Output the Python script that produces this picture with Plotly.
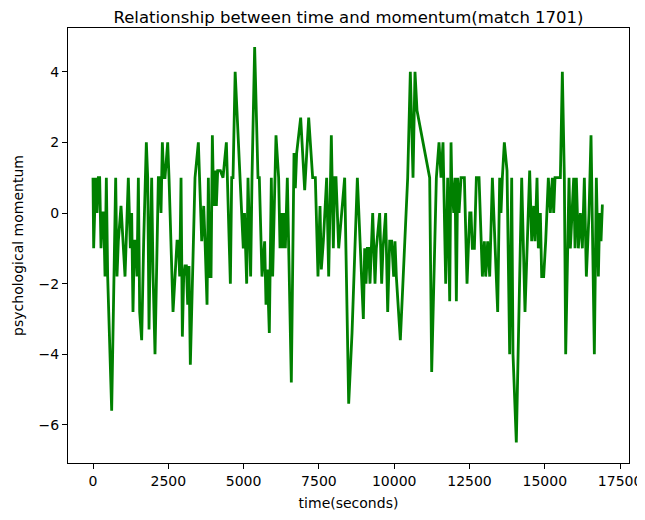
import plotly.graph_objects as go

# time (seconds) and psychological momentum
time_s = [
    0, 22, 89, 133, 177, 221, 266, 310, 354, 399, 443, 487, 620, 753, 797, 841, 930,
    1063, 1173, 1218, 1240, 1284, 1328, 1373, 1417, 1461, 1506, 1550, 1616, 1683, 1727,
    1771, 1816, 1860, 1904, 1948, 1993, 2059, 2170, 2214, 2258, 2303, 2347, 2391, 2480,
    2524, 2657, 2723, 2790, 2834, 2878, 2923, 2967, 3011, 3055, 3100, 3144, 3188, 3232,
    3387, 3498, 3609, 3675, 3720, 3786, 3830, 3874, 3919, 3963, 4007, 4052, 4096, 4140,
    4229, 4317, 4428, 4561, 4605, 4649, 4720, 4950, 4990, 5030, 5057, 5102, 5146, 5190,
    5234, 5279, 5367, 5478, 5522, 5611, 5699, 5744, 5788, 5854, 5921, 5965, 6076, 6164,
    6209, 6253, 6297, 6341, 6386, 6452, 6585, 6674, 6718, 6762, 6895, 7028, 7161, 7293,
    7382, 7470, 7537, 7581, 7648, 7758, 7825, 7913, 7980, 8024, 8068, 8157, 8245, 8356,
    8489, 8600, 8777, 8976, 9020, 9065, 9109, 9153, 9197, 9286, 9363, 9407, 9518, 9584,
    9629, 9717, 9784, 9850, 9917, 9983, 10027, 10071, 10204, 10448, 10536, 10625, 10691,
    10758, 11178, 11245, 11400, 11488, 11555, 11621, 11710, 11776, 11843, 11887, 11909,
    11976, 12020, 12064, 12108, 12153, 12219, 12330, 12418, 12507, 12551, 12595, 12662,
    12728, 12817, 12861, 12928, 12994, 13038, 13104, 13171, 13260, 13347, 13436, 13502,
    13546, 13591, 13657, 13746, 13834, 13901, 13945, 14055, 14233, 14343, 14498, 14565,
    14631, 14675, 14742, 14786, 14853, 14897, 14963, 15030, 15118, 15184, 15251, 15295,
    15340, 15406, 15517, 15583, 15650, 15694, 15805, 15849, 15915, 15960, 16004, 16048,
    16115, 16181, 16247, 16314, 16380, 16469, 16535, 16646, 16712, 16779, 16823, 16867,
    16911, 16956,
]
momentum = [
    1, -1, 1, 0, 1, 1, -1, 0, 0, -1.8, 1, -1.8, -5.6, 1, -1.8, -0.8, 0.2,
    -1.8, 1, 0, -1, 0, -2.8, -0.8, -0.8, -1.8, 1, -2.8, -3.6, -0.8, 1,
    2, 1, -3.3, -0.8, 1, -1.7, -4, 1, 1, 0, 2, 1, 1, 2,
    1, -2.8, -1.8, -0.8, -0.8, -1.8, 1, -3.5, -1.8, -1.5, -1.5, -2.6, -1.5, -4.3,
    1, 2, -0.8, 0.2, -0.8, -2.6, 1, -1.8, -1.8, 2.2, 0.2, 1.2, 0.2, 1.2,
    1.2, 1.0, 2, -2, 1, 1, 4, 0, -1, 0, -1, -2, 1, -0.8,
    -1.8, 1, 4.7, 1, 1, -1.8, -0.8, -2.6, -1.6, -3.4, 1, -1.8, 2.2, 1,
    -1, 0, -1, 0, -1, 1, -4.8, 1.7, 0.7, 1.7, 2.7, 0.65, 2.7, 1,
    1, -1.8, 0.2, -1.6, -0.8, 1, -1.8, 2.2, -1, 1, 1, -1, 0, 1,
    -5.4, -3.4, 1, -3, -1, -2, -1, -1, -2, 0, -2, -1, 0, -2,
    -1, 0, -2.8, -0.8, -0.8, -1.8, -0.8, -1.8, -3.6, 1, 4, 1, 4,
    2.9, 1, -4.5, 1, 2, 1, 2, -2, 1, -2.5, 2, 1,
    0, 1, -2.5, 1, 0, 1, 1, -2, 0, 0, -1, -1,
    1, 1, 0, -1.8, -0.8, -1.8, -0.8, -1.8, 1, -0.8, -2.8, 1,
    0, 1, 2, 1.2, -4, 1, -4, -6.5, 1, -2.8, 1.2, -0.8,
    0.2, -0.8, 1, -1, 0, -1.8, -1.8, -0.8, 1, 0, 1, 0,
    1, 1, 1, 4, 1, -4, 1, -1, 0, 1, -1, 1,
    -1, 0, -1, 1, -1.8, 0, 2.2, -4, 1, -1.8, 0, -0.8,
    0.2, 0.2,
]

x_ticks = [0, 2500, 5000, 7500, 10000, 12500, 15000, 17500]
x_ticktext = ["0", "2500", "5000", "7500", "10000", "12500", "15000", "17500"]
y_ticks = [-6, -4, -2, 0, 2, 4]
y_ticktext = ["\u22126", "\u22124", "\u22122", "0", "2", "4"]

# the page body adds an 8px offset, so the figure is sized to fit the window
W, H = 637, 512

fig = go.Figure(go.Scatter(
    x=time_s,
    y=momentum,
    mode="lines",
    line=dict(color="green", width=2.8),
))

axis_style = dict(
    showgrid=False,
    zeroline=False,
    showline=True,
    mirror=True,
    linecolor="black",
    linewidth=1,
    ticks="outside",
    ticklen=5,
    tickcolor="black",
    tickfont=dict(size=14, color="black"),
    automargin=False,
)

fig.update_layout(
    width=W,
    height=H,
    paper_bgcolor="white",
    plot_bgcolor="white",
    font=dict(family="DejaVu Sans", color="black"),
    title=dict(
        text="Relationship between time and momentum(match 1701)",
        x=(60 + 621) / 2 / W,
        xanchor="center",
        y=1 - 3 / H,
        yanchor="top",
        font=dict(size=16.5),
        automargin=False,
    ),
    xaxis=dict(
        axis_style,
        range=[-830, 17796],
        tickvals=x_ticks,
        ticktext=x_ticktext,
        title=dict(text="time(seconds)", font=dict(size=14), standoff=10),
    ),
    yaxis=dict(
        axis_style,
        range=[-7.08, 5.24],
        tickvals=y_ticks,
        ticktext=y_ticktext,
        title=dict(text="psychological momentum", font=dict(size=14), standoff=11),
    ),
    showlegend=False,
    margin=dict(l=60, r=16, t=20, b=57),
)

fig.write_html("out.html")
